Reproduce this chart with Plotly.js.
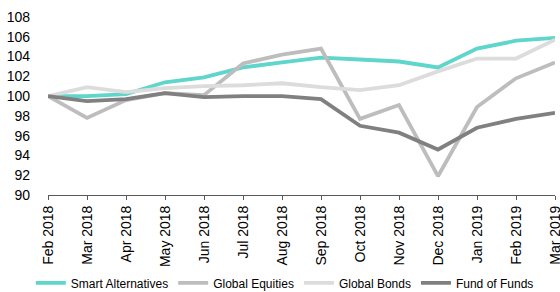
<!DOCTYPE html>
<html><head><meta charset="utf-8">
<script src="https://cdn.plot.ly/plotly-3.0.1.min.js"></script>
<style>html,body{margin:0;padding:0;background:#fff}#chart{width:560px;height:292px}</style>
</head><body><div id="chart"></div>
<script>
const months = ["Feb 2018","Mar 2018","Apr 2018","May 2018","Jun 2018","Jul 2018","Aug 2018","Sep 2018","Oct 2018","Nov 2018","Dec 2018","Jan 2019","Feb 2019","Mar 2019"];
const smartAlternatives = [100,100.0,100.2,101.4,101.9,102.9,103.4,103.9,103.7,103.5,102.9,104.8,105.6,105.9];
const globalEquities = [100,97.8,99.6,100.3,100.1,103.3,104.2,104.8,97.7,99.1,91.9,98.9,101.8,103.4];
const globalBonds = [100,100.9,100.4,100.8,101.0,101.1,101.3,100.9,100.6,101.1,102.5,103.8,103.8,105.7];
const fundOfFunds = [100,99.5,99.7,100.3,99.9,100.0,100.0,99.7,97.0,96.3,94.6,96.8,97.7,98.3];
const yTicks = [90,92,94,96,98,100,102,104,106,108];

const mk = (name, y, color) => ({type:'scatter', mode:'lines', name, x: months, y, line:{color, width:3.8}});
const data = [
  mk('Smart Alternatives', smartAlternatives, '#5fd5cc'),
  mk('Global Equities', globalEquities, '#bdbdbd'),
  mk('Global Bonds', globalBonds, '#dcdcdc'),
  mk('Fund of Funds', fundOfFunds, '#808080')
];
const layout = {
  width:560, height:292,
  margin:{l:48, r:5, t:17, b:97, autoexpand:false},
  paper_bgcolor:'#fff', plot_bgcolor:'#fff',
  font:{family:'Liberation Sans, Arial, sans-serif', size:14, color:'#000'},
  showlegend:true,
  legend:{orientation:'h', x:0.055, xref:'container', xanchor:'left', y:0.031, yref:'container', yanchor:'middle', font:{size:12}, traceorder:'normal', itemwidth:30, tracegroupgap:0, bgcolor:'rgba(0,0,0,0)'},
  xaxis:{type:'category', categoryorder:'array', categoryarray:months, tickangle:-90, showgrid:false, zeroline:false, automargin:false,
    showline:true, linecolor:'#595959', linewidth:1, ticks:'outside', ticklen:4, tickcolor:'#595959', range:[0,13], tickfont:{size:14}},
  yaxis:{range:[90,108], tickvals:yTicks, showgrid:false, zeroline:false, showline:false, ticks:'', ticklabelstandoff:17, automargin:false, tickfont:{size:14}}
};
Plotly.newPlot('chart', data, layout, {displayModeBar:false, staticPlot:true});
</script></body></html>
